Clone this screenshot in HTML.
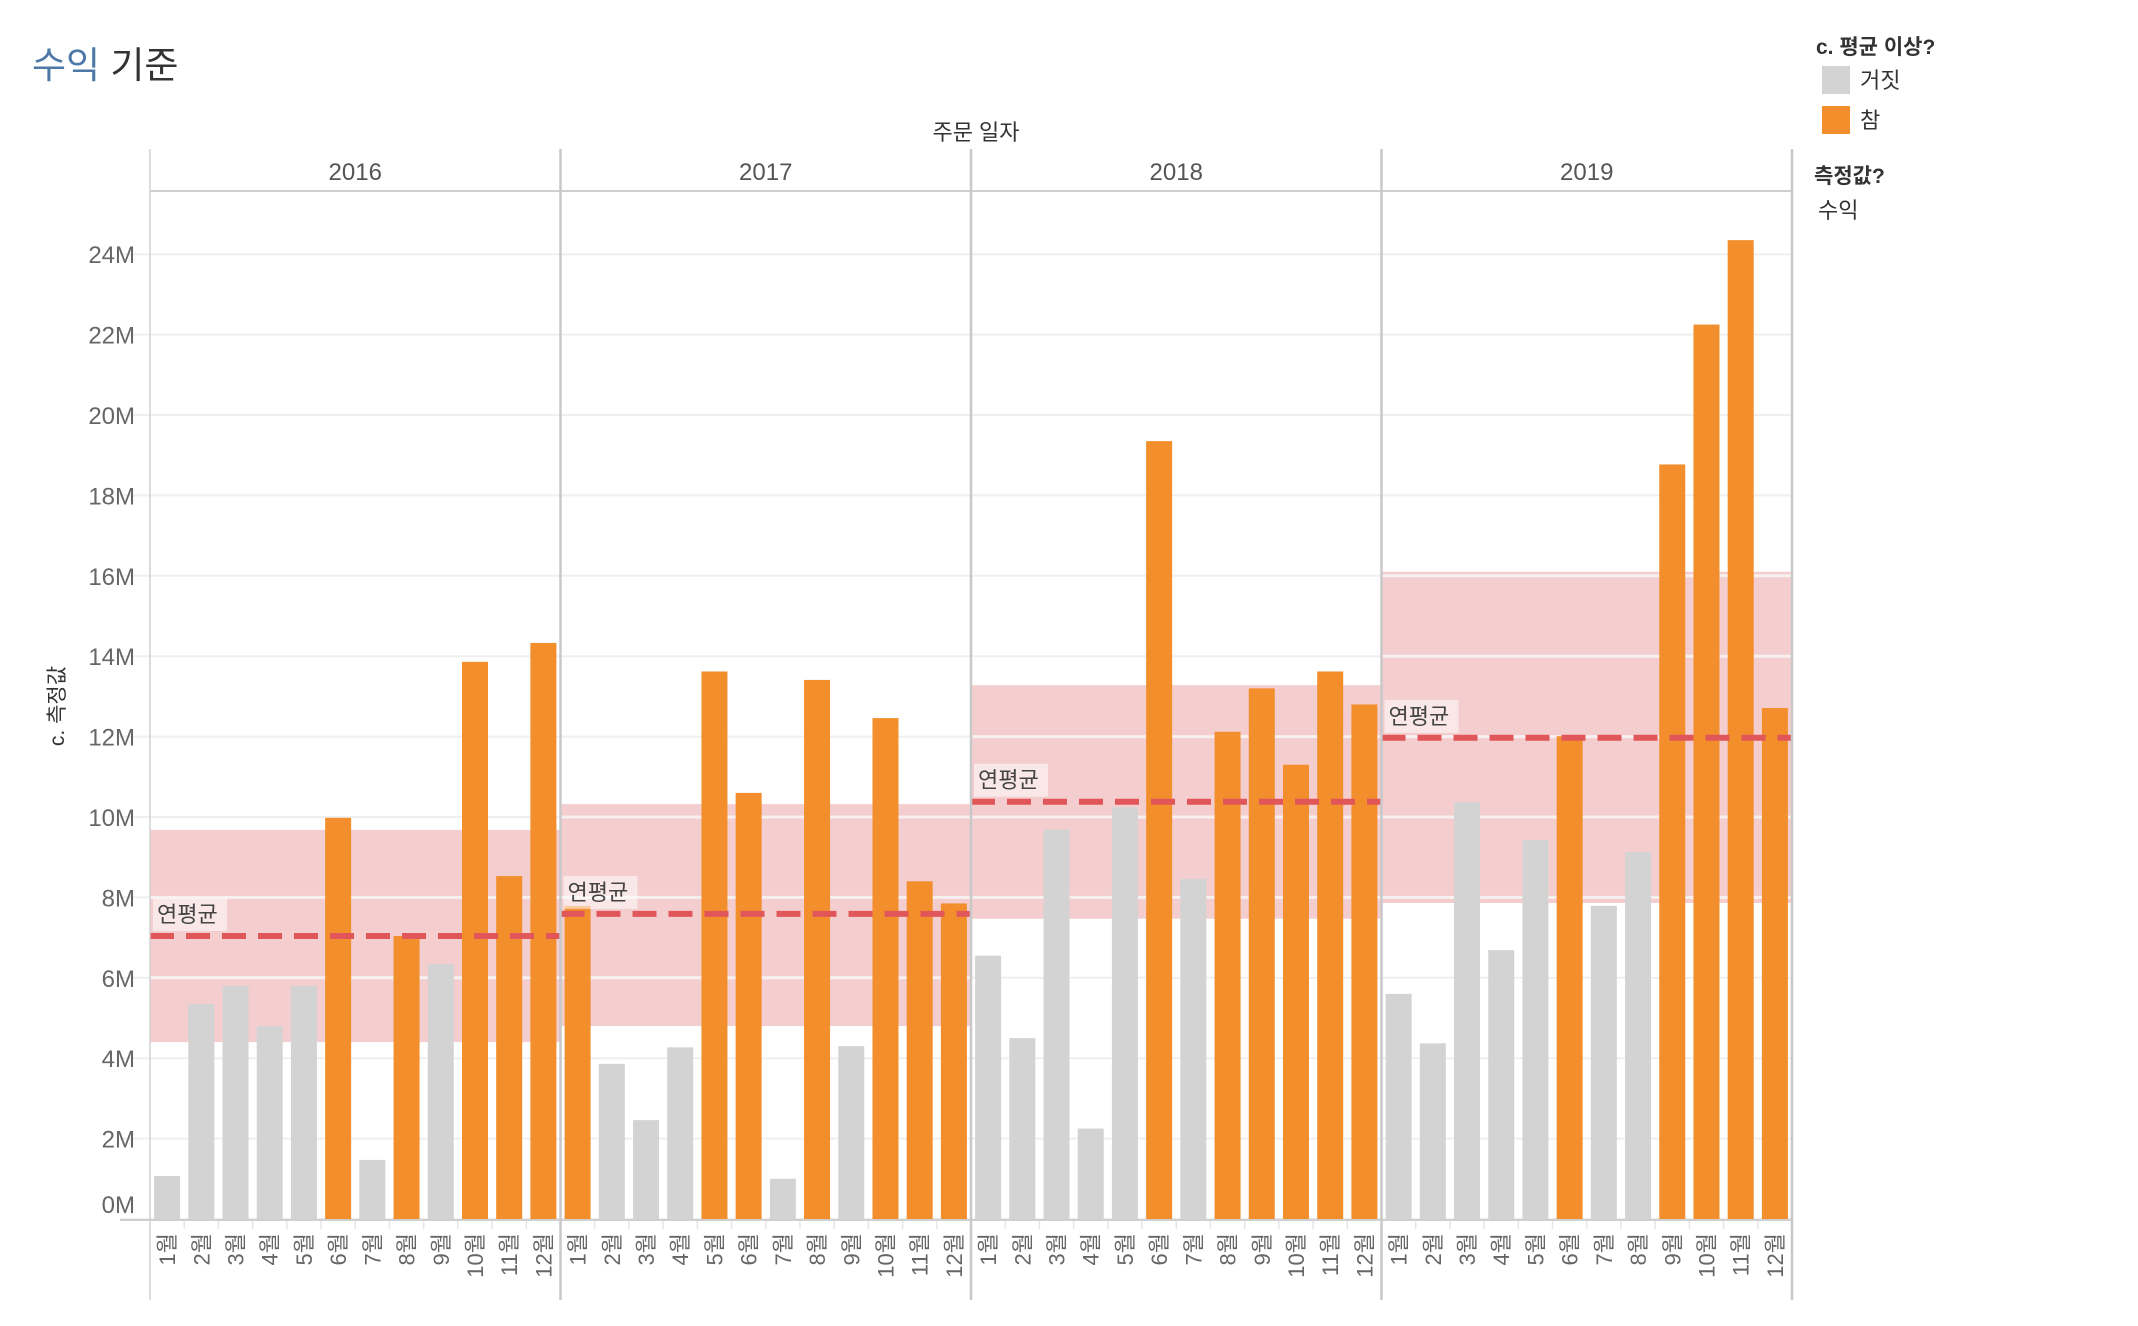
<!DOCTYPE html>
<html><head><meta charset="utf-8">
<style>
html,body{margin:0;padding:0;background:#fff;width:2138px;height:1326px;overflow:hidden;}
svg{display:block;font-family:"Liberation Sans","Noto Sans CJK KR",sans-serif;}
</style></head>
<body>
<svg id="chart" width="2138" height="1326" viewBox="0 0 2138 1326" xmlns="http://www.w3.org/2000/svg">
  <text x="32" y="78" font-size="37" fill="#333"><tspan fill="#4e79a7">수익</tspan> 기준</text>
  <text x="976" y="140" font-size="22" fill="#333" text-anchor="middle">주문 일자</text>
  <text transform="translate(64,706) rotate(-90)" font-size="21" fill="#333" text-anchor="middle">c. 측정값</text>
  <g>
    <text x="1816" y="54" font-size="21" font-weight="600" fill="#333">c. 평균 이상?</text>
    <rect x="1822" y="66" width="28" height="28" fill="#d3d3d3"/>
    <text x="1860" y="88" font-size="22" fill="#333">거짓</text>
    <rect x="1822" y="106" width="28" height="28" fill="#f28e2b"/>
    <text x="1860" y="128" font-size="22" fill="#333">참</text>
    <text x="1814" y="183" font-size="21" font-weight="600" fill="#333">측정값?</text>
    <text x="1818" y="218" font-size="22" fill="#333">수익</text>
  </g>
  <g id="plot"></g>
</svg>
<script>
const years = ["2016","2017","2018","2019"];
const months = ["1월","2월","3월","4월","5월","6월","7월","8월","9월","10월","11월","12월"];
const rev2016 = [1.07,5.35,5.8,4.8,5.8,9.98,1.47,7.04,6.34,13.86,8.53,14.33];
const rev2017 = [7.79,3.86,2.46,4.27,13.62,10.6,1.0,13.41,4.3,12.46,8.4,7.85];
const rev2018 = [6.55,4.5,9.69,2.25,10.24,19.35,8.46,12.12,13.2,11.3,13.62,12.8];
const rev2019 = [5.6,4.37,10.37,6.69,9.43,12.01,7.79,9.13,18.77,22.25,24.35,12.71];
const yearAvg = [7.04,7.59,10.38,11.97];
const bandTop = [9.68,10.32,13.28,16.1];
const bandBottom = [4.4,4.8,7.47,7.86];
const yTicks = [0,2,4,6,8,10,12,14,16,18,20,22,24];
const yTickLabels = ["0M","2M","4M","6M","8M","10M","12M","14M","16M","18M","20M","22M","24M"];

const series = [rev2016, rev2017, rev2018, rev2019];
const NS = "http://www.w3.org/2000/svg";
const plot = document.getElementById("plot");
const X0 = 150, PW = 410.5, Y0 = 1219, PPM = 40.2, HTOP = 149, HBOT = 191, BOT = 1300;
const slot = PW / 12, BW = 26;
function yS(v){ return Y0 - v * PPM; }
function xPanel(i){ return X0 + i * PW; }
function xBar(p, m){ return xPanel(p) + m * slot + (slot - BW) / 2; }
function mk(tag, attrs, parent){
  const e = document.createElementNS(NS, tag);
  for (const k in attrs) e.setAttribute(k, attrs[k]);
  (parent || plot).appendChild(e);
  return e;
}
const right = xPanel(4);
yTicks.forEach((t, i) => {
  const l = mk("line", {x1: X0 - 30, x2: right, y1: yS(t), y2: yS(t), stroke: "#efefef", "stroke-width": 2});
  
  
  const tx = mk("text", {x: 135, y: yS(t) + (t === 0 ? -6 : 9), "font-size": 24, fill: "#666", "text-anchor": "end"});
  tx.textContent = yTickLabels[i];
  
  
});
years.forEach((y, p) => {
  const r = mk("rect", {x: xPanel(p), y: yS(bandTop[p]), width: PW, height: yS(bandBottom[p]) - yS(bandTop[p]), fill: "#f4cdcf"});
  
  
  yTicks.forEach(t => {
    if (t < bandTop[p] && t > bandBottom[p]) {
      const g = mk("line", {x1: xPanel(p), x2: xPanel(p) + PW, y1: yS(t), y2: yS(t), stroke: "#f7f0f0", "stroke-width": 3});
      
      
    }
  });
});
years.forEach((y, p) => {
  series[p].forEach((v, m) => {
    const above = v >= yearAvg[p];
    const b = mk("rect", {x: xBar(p, m), y: yS(v), width: BW, height: Y0 - yS(v), fill: above ? "#f28e2b" : "#d3d3d3"});
    
    
  });
});
years.forEach((y, p) => {
  const ly = yS(yearAvg[p]);
  const l = mk("line", {x1: xPanel(p), x2: xPanel(p) + PW, y1: ly, y2: ly, stroke: "#e15759", "stroke-width": 6, "stroke-dasharray": "24 12"});
  
  
  const bg = mk("rect", {x: xPanel(p) + 3, y: ly - 38, width: 74, height: 33, fill: "#fff", "fill-opacity": 0.55});
  
  
  const t = mk("text", {x: xPanel(p) + 7, y: ly - 14, "font-size": 22, fill: "#444"});
  t.textContent = "연평균";
  
  
});
const hb = mk("line", {x1: X0, x2: right, y1: HBOT, y2: HBOT, stroke: "#cfcfcf", "stroke-width": 2});


const ax = mk("line", {x1: X0 - 30, x2: right, y1: Y0 + 1, y2: Y0 + 1, stroke: "#cfcfcf", "stroke-width": 2});


for (let p = 0; p <= 4; p++) {
  const d = mk("line", {x1: xPanel(p), x2: xPanel(p), y1: HTOP, y2: BOT, stroke: p === 0 ? "#d0d0d0" : "#c8c8c8", "stroke-width": p === 0 ? 1.5 : 2.5});
  
  
}
years.forEach((y, p) => {
  const t = mk("text", {x: xPanel(p) + PW / 2, y: 180, "font-size": 24, fill: "#555", "text-anchor": "middle"});
  t.textContent = y;
  
  
  months.forEach((mo, m) => {
    const cx = xPanel(p) + m * slot + slot / 2;
    if (m > 0) {
      const tk = mk("line", {x1: xPanel(p) + m * slot, x2: xPanel(p) + m * slot, y1: Y0 + 2, y2: Y0 + 10, stroke: "#e6e6e6", "stroke-width": 1.5});
      
      
    }
    const ml = mk("text", {transform: "translate(" + (cx + 8) + "," + 1233 + ") rotate(-90)", "font-size": 22, fill: "#666", "text-anchor": "end"});
    ml.textContent = mo;
    
    
  });
});
</script>
</body></html>
